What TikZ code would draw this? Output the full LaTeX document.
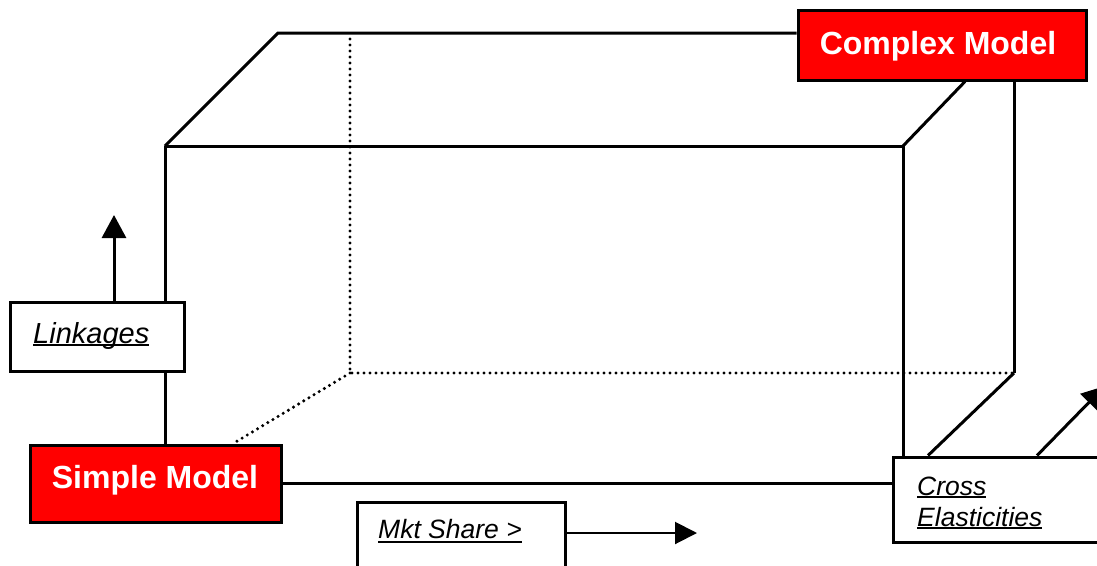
\documentclass[tikz,border=0pt]{standalone}
\usepackage{fontspec}
\setmainfont{Liberation Sans}
\usetikzlibrary{arrows.meta}
\newcommand{\myul}[2][3pt]{\setbox0\hbox{#2}\rlap{\rule[-#1]{\wd0}{1.6pt}}\box0}
\begin{document}
\begin{tikzpicture}[x=1pt,y=-1pt,
  edge/.style={line width=3pt},
  dots/.style={line width=3.4pt, line cap=round, dash pattern=on 0pt off 6pt},
  redbox/.style={draw, line width=3pt, fill=red, inner sep=0pt},
  whitebox/.style={draw, line width=3pt, fill=white, inner sep=0pt},
  redtext/.style={text=white, font=\fontsize{32}{38}\selectfont\bfseries, inner sep=0pt, anchor=base},
  labtext/.style={font=\fontsize{26.5}{31}\selectfont\itshape, inner sep=0pt, anchor=base west},
  bigarrow/.style={line width=3pt, -{Triangle[width=24pt,length=23pt]}},
  smallarrow/.style={line width=2pt, -{Triangle[width=22pt,length=22pt]}},
]
\useasboundingbox (0,0) rectangle (1097,565);

% boxes
\node[redbox, minimum width=288pt, minimum height=70pt] (complex) at (942,45) {};
\node[redtext] (complextxt) at (938,54) {Complex Model};
\node[redbox, minimum width=251pt, minimum height=77pt] (simple) at (155.5,483.5) {};
\node[redtext] (simpletxt) at (155,488) {Simple Model};
\node[whitebox, minimum width=174pt, minimum height=69pt] (linkages) at (97,336.5) {};
\node[labtext, font=\fontsize{29}{34}\selectfont\itshape] (linktxt) at (33,343) {\myul[3pt]{Linkages}};
\node[whitebox, minimum width=208pt, minimum height=80pt] (mkt) at (461,542) {};
\node[labtext] (mkttxt) at (378,538) {\myul[4.5pt]{Mkt Share >}};
\node[whitebox, minimum width=216pt, minimum height=85pt] (cross) at (1001,499.5) {};
\node[labtext] (crosstxt) at (917,495) {\myul[2.5pt]{Cross}};
\node[labtext] (elasttxt) at (917,526) {\myul[2.5pt]{Elasticities}};

% cube corners
\coordinate (btl) at (278,33);
\coordinate (ftl) at (165,146);
\coordinate (ftr) at (903,146);
\coordinate (brb) at (1014,373);
\coordinate (bbl) at (350,373);
\coordinate (bdt) at (350,39);
\coordinate (k1) at (965,0);
\coordinate (k2) at (928,0);
\coordinate (dd) at (234,443);

% solid edges
\draw[edge] (ftl) -- (btl) -- (btl -| complex.west);
\draw[edge] (ftl) -- (ftr);
\draw[edge] (ftr) -- (complex.south -| k1);
\draw[edge] (brb) -- (brb |- complex.south);
\draw[edge] (brb) -- (cross.north -| k2);
\draw[edge] (ftr) -- (ftr |- cross.north);
\draw[edge] (simple.east) -- (simple.east -| cross.west);
\draw[edge] (ftl) -- (ftl |- linkages.north);
\draw[edge] (ftl |- linkages.south) -- (ftl |- simple.north);

% hidden edges
\draw[dots] (bdt) -- (bbl) -- (brb);
\draw[dots] (bbl) -- (dd);

% arrows
\coordinate (la) at (114,215);
\draw[bigarrow] (la |- linkages.north) -- (la);
\coordinate (ma) at (697,533);
\draw[smallarrow] (ma -| mkt.east) -- (ma);
\coordinate (ca0) at (1037,0);
\coordinate (ca) at (1105,386);
\draw[bigarrow] (cross.north -| ca0) -- (ca);
\end{tikzpicture}
\end{document}
